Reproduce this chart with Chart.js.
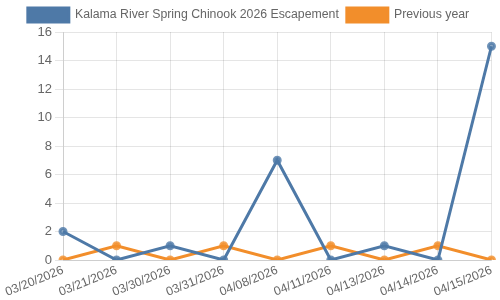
<!DOCTYPE html>
<html>
<head>
<meta charset="utf-8">
<script src="https://cdn.jsdelivr.net/npm/chart.js@4"></script>
<style>
  html, body { margin: 0; padding: 0; background: #fff; }
  #wrap { width: 500px; height: 300px; }
</style>
</head>
<body>
<div id="wrap"><canvas id="chart"></canvas></div>
<script>
const dates = ['03/20/2026', '03/21/2026', '03/30/2026', '03/31/2026', '04/08/2026',
    '04/11/2026', '04/13/2026', '04/14/2026', '04/15/2026'];
const escapement = [2, 0, 1, 0, 7, 0, 1, 0, 15];
const previousYear = [0, 1, 0, 1, 0, 1, 0, 1, 0];

const blue = '#4e79a7';
const orange = '#f28e2b';

Chart.defaults.font.family = '"Liberation Sans", Arial, sans-serif';
Chart.defaults.font.size = 12;
Chart.defaults.color = '#666';

new Chart(document.getElementById('chart'), {
    type: 'line',
    data: {
        labels: dates,
        datasets: [{
            label: 'Kalama River Spring Chinook 2026 Escapement',
            data: escapement,
            borderColor: blue,
            backgroundColor: blue,
            pointBackgroundColor: 'rgba(78,121,167,0.6)',
            pointBorderColor: 'rgba(78,121,167,0.8)',
            borderWidth: 3,
            pointRadius: 3,
            tension: 0,
            fill: false,
        }, {
            label: 'Previous year',
            data: previousYear,
            borderColor: orange,
            backgroundColor: orange,
            pointBackgroundColor: 'rgba(242,142,43,0.6)',
            pointBorderColor: 'rgba(242,142,43,0.8)',
            borderWidth: 3,
            pointRadius: 3,
            tension: 0,
            fill: false,
        }],
    },
    options: {
        responsive: true,
        maintainAspectRatio: false,
        animation: false,
        layout: { padding: { left: 0, right: 3, top: 0, bottom: 0 } },
        plugins: {
            legend: {
                labels: { boxWidth: 41, boxHeight: 14, padding: 8, font: { size: 12.3 } },
            },
            tooltip: { enabled: false },
        },
        scales: {
            x: {
                grid: { color: 'rgba(0,0,0,0.1)', drawTicks: false },
                ticks: { maxRotation: 22, minRotation: 22, autoSkip: false, padding: 3, font: { size: 12.3 } },
                afterFit: s => { s.height = 40; },
            },
            y: {
                min: 0,
                max: 16,
                ticks: { stepSize: 2, font: { size: 13 } },
                grid: { color: 'rgba(0,0,0,0.1)' },
                afterFit: s => { s.width = 63; },
            },
        },
    },
});
</script>
</body>
</html>
